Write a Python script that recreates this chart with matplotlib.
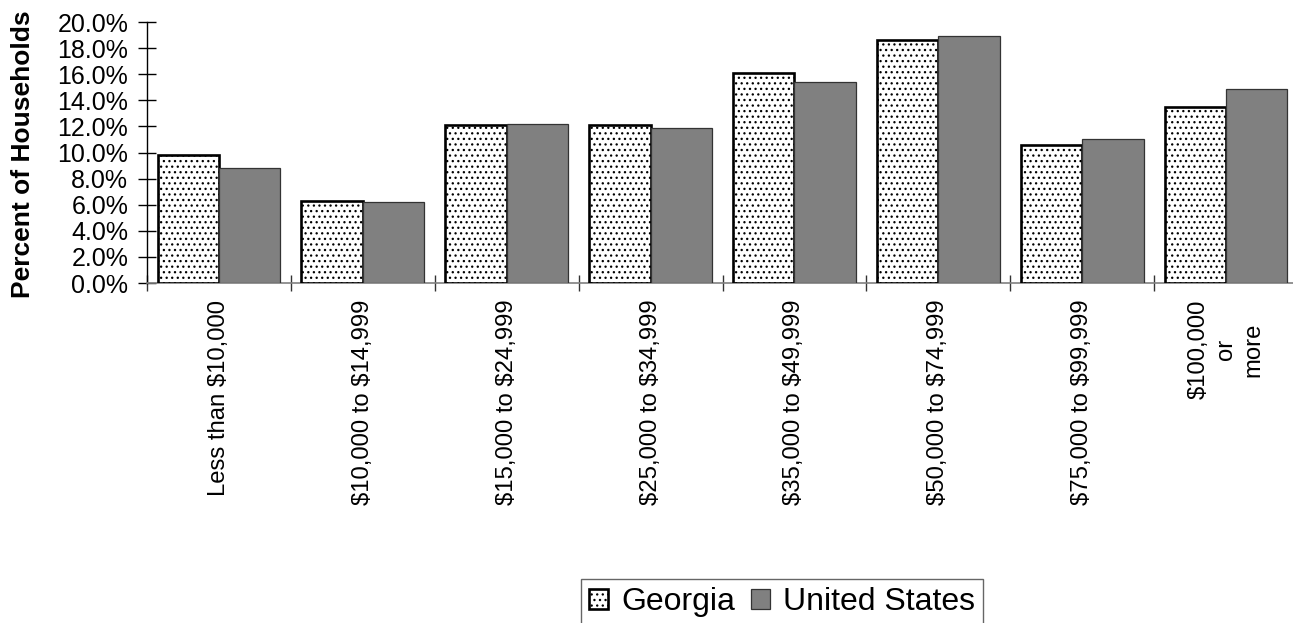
import matplotlib
matplotlib.use("Agg")
import matplotlib.pyplot as plt
import numpy as np
from matplotlib.ticker import FuncFormatter, FixedLocator

categories = ["Less than $10,000", "$10,000 to $14,999", "$15,000 to $24,999",
              "$25,000 to $34,999", "$35,000 to $49,999", "$50,000 to $74,999",
              "$75,000 to $99,999", "$100,000\nor\nmore"]
georgia = [9.8, 6.3, 12.1, 12.1, 16.1, 18.6, 10.6, 13.5]
united_states = [8.8, 6.2, 12.2, 11.9, 15.4, 18.9, 11.0, 14.9]
series_names = ["Georgia", "United States"]
y_ticks = [0, 2, 4, 6, 8, 10, 12, 14, 16, 18, 20]

plt.rcParams['font.family'] = ['Liberation Sans', 'DejaVu Sans']
plt.rcParams['text.parse_math'] = False
plt.rcParams['hatch.linewidth'] = 0.9

W, H = 1293, 623
fig = plt.figure(figsize=(W / 100, H / 100), dpi=100)
ax = fig.add_axes([147 / W, 1 - 283 / H, 1151 / W, 261 / H])

n = len(categories)
x = np.arange(n) + 0.5
w = 0.427
ax.bar(x - w / 2, georgia, width=w, facecolor='white', edgecolor='black',
       linewidth=1.9, hatch='...', label=series_names[0], zorder=3)
ax.bar(x + w / 2, united_states, width=w, facecolor='#808080', edgecolor='#333333',
       linewidth=0.9, label=series_names[1], zorder=3)

ax.set_xlim(0, n)
ax.set_ylim(0, 20)
ax.yaxis.set_major_locator(FixedLocator(y_ticks))
ax.yaxis.set_major_formatter(FuncFormatter(lambda v, p: f"{v:.1f}%"))

ax.xaxis.set_major_locator(FixedLocator(np.arange(n + 1)))
ax.xaxis.set_major_formatter(FuncFormatter(lambda v, p: ""))
ax.xaxis.set_minor_locator(FixedLocator(x))
ax.set_xticklabels(categories, minor=True, rotation=90, fontsize=17.2,
                   ha='center', va='top', multialignment='center',
                   linespacing=1.3)
ax.tick_params(axis='x', which='minor', length=0, pad=12)
ax.tick_params(axis='x', which='major', direction='inout', length=12, width=1,
               color='#333333')
ax.tick_params(axis='y', which='major', direction='inout', length=13, width=1,
               color='black', labelsize=18, pad=7)

for s in ['top', 'right']:
    ax.spines[s].set_visible(False)
ax.spines['left'].set_color('black')
ax.spines['left'].set_linewidth(1.0)
ax.spines['bottom'].set_color('#808080')
ax.spines['bottom'].set_linewidth(1.2)

fig.text(23 / W, 1 - 154 / H, "Percent of Households", rotation=90,
         ha='center', va='center', fontsize=19, fontweight='bold')

leg = fig.legend(loc='upper left', bbox_to_anchor=(581 / W, 1 - 579 / H),
                 bbox_transform=fig.transFigure, ncol=2, fontsize=23,
                 frameon=True, fancybox=False, shadow=False, borderaxespad=0,
                 borderpad=0.25, handlelength=0.6, handleheight=0.6,
                 handletextpad=0.4, columnspacing=0.5)
leg.get_frame().set_edgecolor('#404040')
leg.get_frame().set_linewidth(1.0)

fig.savefig("out.png", dpi=100)
